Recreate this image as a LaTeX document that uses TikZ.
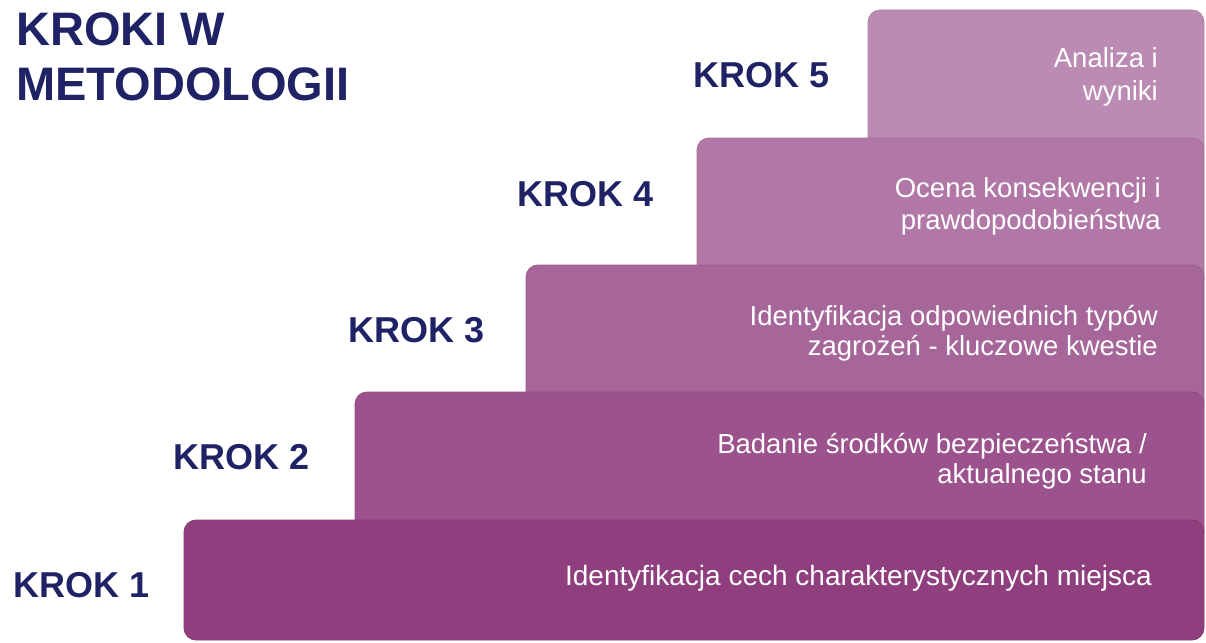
\documentclass[tikz,border=0pt]{standalone}
\usepackage{fontspec}
\setmainfont{Liberation Sans}
\definecolor{navy}{HTML}{1F2366}
\definecolor{cA}{HTML}{8F3F7E}
\definecolor{cB}{HTML}{9C528C}
\definecolor{cC}{HTML}{A66699}
\definecolor{cD}{HTML}{B178A7}
\definecolor{cE}{HTML}{BC8BB3}
\tikzset{
  stepbar/.style={rounded corners=12pt, line width=0.8pt},
  krok/.style={anchor=base west, inner sep=0pt, text=navy, font=\fontsize{36}{40}\selectfont\bfseries},
  desc/.style={anchor=base east, inner sep=0pt, text=white, align=right, font=\fontsize{27.5}{32}\selectfont},
  titletxt/.style={anchor=base west, inner sep=0pt, text=navy, align=left, font=\fontsize{47}{55}\selectfont\bfseries}
}
\begin{document}
\begin{tikzpicture}[x=1pt,y=-1pt]
\useasboundingbox (0,0) rectangle (1206,642);
% bars, top first
\path[stepbar, fill=cE, draw=cE!92!black] (868,10) rectangle (1204,160);
\path[stepbar, fill=cD, draw=cD!92!black] (697,138) rectangle (1204,290);
\path[stepbar, fill=cC, draw=cC!92!black] (526,265) rectangle (1204,415);
\path[stepbar, fill=cB, draw=cB!92!black] (355,392) rectangle (1204,545);
\path[stepbar, fill=cA, draw=cA!92!black] (184,520) rectangle (1204,640);
% title (base = last line)
\node[titletxt] (title) at (16,100) {KROKI W\\METODOLOGII};
% step labels
\node[krok] (k5) at (693,87) {KROK 5};
\node[krok] (k4) at (517,206) {KROK 4};
\node[krok] (k3) at (348,342) {KROK 3};
\node[krok] (k2) at (173,469) {KROK 2};
\node[krok] (k1) at (13,597) {KROK 1};
% descriptions (base = last line)
\node[desc, font=\fontsize{27.5}{33}\selectfont] (d5) at (1158,100) {Analiza i\\wyniki};
\node[desc] (d4) at (1161,229) {Ocena konsekwencji i\\prawdopodobieństwa};
\node[desc, font=\fontsize{27.5}{30}\selectfont] (d3) at (1158,355) {Identyfikacja odpowiednich typów\\zagrożeń - kluczowe kwestie};
\node[desc, font=\fontsize{27.5}{30}\selectfont] (d2) at (1147,483) {Badanie środków bezpieczeństwa /\\aktualnego stanu};
\node[desc, font=\fontsize{28}{32}\selectfont] (d1) at (1152,585) {Identyfikacja cech charakterystycznych miejsca};
\end{tikzpicture}
\end{document}
